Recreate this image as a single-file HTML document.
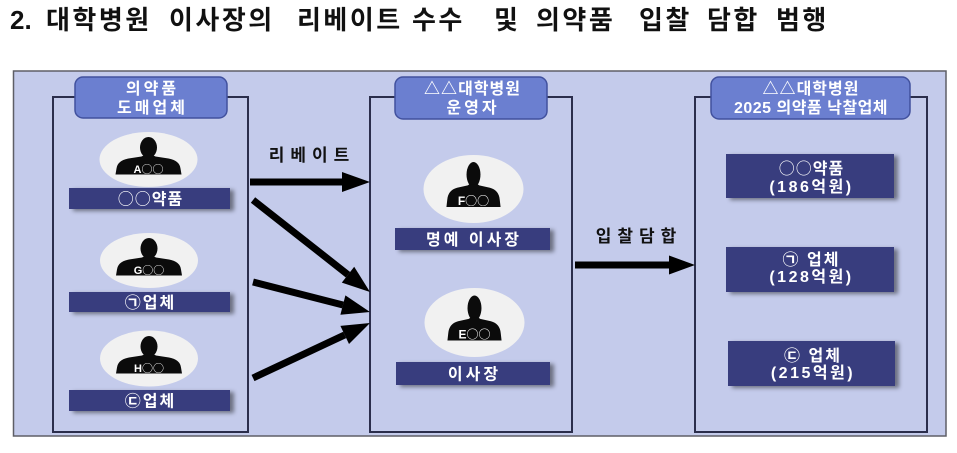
<!DOCTYPE html>
<html>
<head>
<meta charset="utf-8">
<style>
  html,body{margin:0;padding:0;background:#ffffff;}
  body{width:957px;height:453px;overflow:hidden;}
  svg{display:block;}
  text{font-family:"Liberation Sans","Noto Sans CJK KR",sans-serif;font-weight:bold;}
  .cj{font-family:"Noto Sans CJK KR",sans-serif;}
</style>
</head>
<body>
<svg width="957" height="453" viewBox="0 0 957 453" xmlns="http://www.w3.org/2000/svg">
  <defs>
    <filter id="sh" x="-10%" y="-30%" width="125%" height="170%">
      <feDropShadow dx="4" dy="2" stdDeviation="2" flood-color="#000" flood-opacity="0.45"/>
    </filter>
    <g id="person">
      <ellipse cx="0" cy="-12" rx="8.5" ry="10.5" fill="#0b0b0b"/>
      <path d="M-5,-4 L5,-4 L7,-3 L20,-1 Q31,1 32,9 L33,15 L-33,15 L-32,9 Q-31,1 -20,-1 L-7,-3 Z" fill="#0b0b0b"/>
    </g>
  </defs>

  <!-- Title -->
  <g font-size="26" fill="#111" letter-spacing="2.5">
    <text x="10" y="29" letter-spacing="0">2.</text>
    <text x="46" y="29">대학병원</text>
    <text x="169" y="29">이사장의</text>
    <text x="297" y="29">리베이트</text>
    <text x="412" y="29">수수</text>
    <text x="494" y="29">및</text>
    <text x="536" y="29">의약품</text>
    <text x="639" y="29">입찰</text>
    <text x="707" y="29">담합</text>
    <text x="776" y="29">범행</text>
  </g>

  <!-- Outer frame -->
  <rect x="13.5" y="71" width="932.5" height="365" fill="#c4cbeb" stroke="#5e5e66" stroke-width="1.5"/>

  <!-- Panels -->
  <rect x="53" y="97" width="195" height="335" fill="#c4cbeb" stroke="#2b2e4c" stroke-width="2"/>
  <rect x="370" y="97" width="202" height="335" fill="#c4cbeb" stroke="#2b2e4c" stroke-width="2"/>
  <rect x="695" y="97" width="232" height="335" fill="#c4cbeb" stroke="#2b2e4c" stroke-width="2"/>

  <!-- Headers -->
  <rect x="75" y="77" width="152" height="41" rx="8" fill="#6b7fd0" stroke="#41519e" stroke-width="1.5"/>
  <rect x="395" y="77" width="152" height="42" rx="8" fill="#6b7fd0" stroke="#41519e" stroke-width="1.5"/>
  <rect x="711" y="77" width="199" height="42" rx="8" fill="#6b7fd0" stroke="#41519e" stroke-width="1.5"/>
  <g fill="#ffffff" font-size="16" text-anchor="middle">
    <text x="152.5" y="94" letter-spacing="3">의약품</text>
    <text x="152.5" y="113" letter-spacing="3">도매업체</text>
    <text x="472.5" y="94" letter-spacing="1"><tspan class="cj">△△</tspan>대학병원</text>
    <text x="473" y="113" letter-spacing="3">운영자</text>
    <text x="811" y="94" letter-spacing="1"><tspan class="cj">△△</tspan>대학병원</text>
    <text x="811" y="113" letter-spacing="0.5">2025 의약품 낙찰업체</text>
  </g>

  <!-- Left persons -->
  <ellipse cx="148.5" cy="159.5" rx="49" ry="27.5" fill="#f1f1f1"/>
  <use href="#person" transform="translate(148.5,159.5)"/>
  <text x="148.5" y="173" font-size="11" fill="#fff" text-anchor="middle">A<tspan class="cj" font-weight="normal">○○</tspan></text>

  <ellipse cx="149" cy="260.5" rx="49" ry="27.5" fill="#f1f1f1"/>
  <use href="#person" transform="translate(149,260.5)"/>
  <text x="149" y="274" font-size="11" fill="#fff" text-anchor="middle">G<tspan class="cj" font-weight="normal">○○</tspan></text>

  <ellipse cx="149" cy="358.5" rx="49" ry="28" fill="#f1f1f1"/>
  <use href="#person" transform="translate(149,358.5)"/>
  <text x="149" y="372" font-size="11" fill="#fff" text-anchor="middle">H<tspan class="cj" font-weight="normal">○○</tspan></text>

  <!-- Left bars -->
  <g filter="url(#sh)">
    <rect x="69" y="188" width="161" height="21" fill="#393c7e"/>
    <rect x="69" y="292" width="161" height="20" fill="#393c7e"/>
    <rect x="69" y="390" width="161" height="21" fill="#393c7e"/>
  </g>
  <g fill="#ffffff" font-size="16" text-anchor="middle">
    <text x="150.5" y="204.5" letter-spacing="1"><tspan class="cj" font-weight="normal">○○</tspan>약품</text>
    <text x="150.5" y="308" letter-spacing="2">㉠업체</text>
    <text x="150.5" y="406.5" letter-spacing="2">㉢업체</text>
  </g>

  <!-- Middle persons -->
  <ellipse cx="473.5" cy="189" rx="50" ry="34" fill="#f1f1f1"/>
  <use href="#person" transform="translate(473.5,189) scale(0.82,1.2)"/>
  <text x="473.5" y="205" font-size="12" fill="#fff" text-anchor="middle">F<tspan class="cj" font-weight="normal">○○</tspan></text>

  <ellipse cx="474.5" cy="322.5" rx="50" ry="34.5" fill="#f1f1f1"/>
  <use href="#person" transform="translate(474.5,322.5) scale(0.82,1.2)"/>
  <text x="474.5" y="338.5" font-size="12" fill="#fff" text-anchor="middle">E<tspan class="cj" font-weight="normal">○○</tspan></text>

  <!-- Middle bars -->
  <g filter="url(#sh)">
    <rect x="395" y="228" width="155" height="22" fill="#393c7e"/>
    <rect x="396" y="362" width="154" height="23" fill="#393c7e"/>
  </g>
  <g fill="#ffffff" font-size="16" text-anchor="middle">
    <text x="474" y="245" letter-spacing="3">명예 이사장</text>
    <text x="474.5" y="379.5" letter-spacing="3">이사장</text>
  </g>

  <!-- Right boxes -->
  <g filter="url(#sh)">
    <rect x="726" y="154" width="168" height="44" fill="#393c7e"/>
    <rect x="726" y="247" width="168" height="45" fill="#393c7e"/>
    <rect x="728" y="341" width="167" height="45" fill="#393c7e"/>
  </g>
  <g fill="#ffffff" font-size="16" text-anchor="middle">
    <text x="811.5" y="174" letter-spacing="1"><tspan class="cj" font-weight="normal">○○</tspan>약품</text>
    <text x="811.5" y="192" letter-spacing="2.5">(186억원)</text>
    <text x="811.5" y="265" letter-spacing="2">㉠ 업체</text>
    <text x="811.5" y="282" letter-spacing="2.5">(128억원)</text>
    <text x="813" y="361" letter-spacing="2">㉢ 업체</text>
    <text x="813" y="378" letter-spacing="2.5">(215억원)</text>
  </g>

  <!-- Arrow labels -->
  <g fill="#111" font-size="17" text-anchor="middle">
    <text x="312" y="161" letter-spacing="6">리베이트</text>
    <text x="639" y="242" letter-spacing="6">입찰담합</text>
  </g>

  <!-- Arrows -->
  <g stroke="#000" stroke-width="7" fill="none">
    <line x1="250" y1="182" x2="344" y2="182"/>
    <line x1="253" y1="200" x2="348" y2="274.7"/>
    <line x1="253" y1="282" x2="343" y2="305"/>
    <line x1="253" y1="378" x2="344.7" y2="334.9"/>
    <line x1="575" y1="265" x2="671" y2="265"/>
  </g>
  <g fill="#000">
    <polygon points="342,172 370,182 342,192"/>
    <polygon points="341.8,282.6 370,292 354.2,266.8"/>
    <polygon points="340.4,314.7 370,312 345.4,295.4"/>
    <polygon points="349,343.95 370,323 340.4,325.85"/>
    <polygon points="669,255.5 695,265 669,274.5"/>
  </g>
</svg>
</body>
</html>
